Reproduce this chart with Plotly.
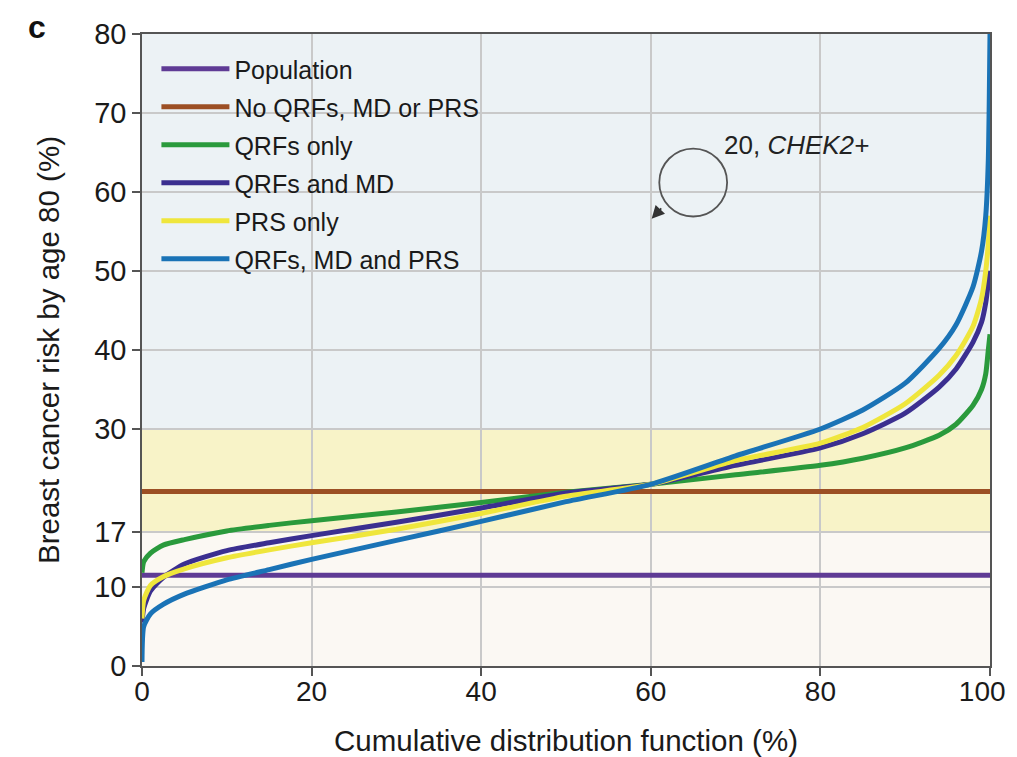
import plotly.graph_objects as go

# ---- data ----
cdf = [0, 0.2, 1, 2.5, 5, 10, 15, 20, 30, 40, 50, 60, 70, 80, 85, 90, 94, 96,
       98, 99, 99.5, 99.8, 100]
qrfs_only = [11.8, 13.2, 14.3, 15.3, 16.0, 17.1, 17.8, 18.4, 19.5, 20.7, 22.0, 23.0,
             24.2, 25.4, 26.3, 27.6, 29.2, 30.6, 33.0, 35.0, 37.0, 40.0, 42.0]
qrfs_md = [5.5, 7.3, 9.5, 11.2, 12.9, 14.6, 15.6, 16.5, 18.2, 20.0, 21.9, 23.0,
           25.4, 27.6, 29.4, 32.0, 35.3, 37.6, 41.0, 43.5, 46.0, 48.5, 50.0]
prs_only = [6.0, 8.3, 10.2, 11.3, 12.3, 13.7, 14.7, 15.6, 17.3, 19.3, 21.5, 23.0,
            26.0, 28.2, 30.2, 33.2, 36.8, 39.3, 43.0, 46.5, 50.0, 53.5, 57.0]
qrfs_md_prs = [0.5, 5.0, 6.6, 7.8, 9.1, 10.9, 12.2, 13.5, 15.9, 18.3, 20.8, 23.0,
               26.6, 30.0, 32.4, 35.8, 40.2, 43.2, 48.0, 52.5, 57.0, 64.0, 80.0]
flat_x = [0, 100]
population = [11.5, 11.5]
no_qrfs = [22.1, 22.1]

x_ticks = [0, 20, 40, 60, 80, 100]
x_tick_labels = ["0", "20", "40", "60", "80", "100&nbsp;&nbsp;"]
y_ticks = [0, 10, 17, 30, 40, 50, 60, 70, 80]
bands = [(0, 17, "#fbf8f3"), (17, 30, "#f8f3c8"), (30, 80, "#ecf2f5")]

FONT = "Liberation Sans, Arial, Helvetica, sans-serif"

series = [
    ("Population", flat_x, population, "#5f3b95", "linear"),
    ("No QRFs, MD or PRS", flat_x, no_qrfs, "#9c4f24", "linear"),
    ("QRFs only", cdf, qrfs_only, "#2a9a3c", "spline"),
    ("QRFs and MD", cdf, qrfs_md, "#3b2f90", "spline"),
    ("PRS only", cdf, prs_only, "#efe63c", "spline"),
    ("QRFs, MD and PRS", cdf, qrfs_md_prs, "#1a73b6", "spline"),
]

fig = go.Figure()
for i, (name, xs, ys, col, shp) in enumerate(series):
    line = dict(color=col, width=5, shape=shp)
    if shp == "spline":
        line["smoothing"] = 0.6
    fig.add_trace(go.Scatter(x=xs, y=ys, mode="lines", name=name,
                             legendgroup=f"g{i}", line=line))

shapes = []
for y0, y1, c in bands:
    shapes.append(dict(type="rect", xref="x", yref="y", x0=0, x1=100, y0=y0, y1=y1,
                       fillcolor=c, line=dict(width=0), layer="below"))
# circular arrow symbol
shapes.append(dict(type="circle", xref="x", yref="y", x0=61.0, x1=69.0, y0=56.9, y1=65.5,
                   line=dict(color="#555555", width=1.8), layer="above"))

axis_common = dict(ticks="outside", ticklen=8, tickcolor="#555555", tickwidth=1.5,
                   showgrid=True, gridcolor="#c9c9c9", gridwidth=1.5,
                   showline=True, linecolor="#555555", linewidth=1.5, mirror=True,
                   zeroline=False, automargin=False)

fig.update_layout(
    width=1009, height=749,
    margin=dict(l=134, r=27, t=26, b=91),
    paper_bgcolor="white", plot_bgcolor="white",
    font=dict(family=FONT, color="#1a1a1a", size=24),
    shapes=shapes,
    showlegend=True,
    legend=dict(x=0.017, y=0.981, xanchor="left", yanchor="top",
                bgcolor="rgba(0,0,0,0)", font=dict(size=25, family=FONT),
                tracegroupgap=2.5, traceorder="grouped", itemwidth=68),
    xaxis=dict(range=[0, 100], tickvals=x_ticks, ticktext=x_tick_labels,
               ticklabelstandoff=-8, tickfont=dict(size=28),
               ticklabeloverflow="allow",
               title=dict(text="Cumulative distribution function (%)",
                          font=dict(size=29.5), standoff=34),
               **axis_common),
    yaxis=dict(range=[0, 80], tickvals=y_ticks, tickfont=dict(size=29),
               title=dict(text="Breast cancer risk by age 80 (%)",
                          font=dict(size=29.5), standoff=26),
               **axis_common),
    annotations=[
        dict(x=68.4, y=65.9, xref="x", yref="y", text="20, <i>CHEK2+</i>",
             showarrow=False, xanchor="left", yanchor="middle",
             font=dict(size=26, color="#222222")),
        dict(x=60.1, y=56.6, xref="x", yref="y", text="", showarrow=True,
             ax=11, ay=-12, arrowhead=2, arrowsize=1.6, arrowwidth=1.6,
             arrowcolor="#333333"),
        dict(x=-0.137, y=1.011, xref="paper", yref="paper", text="<b>c</b>",
             showarrow=False, xanchor="left", yanchor="middle",
             font=dict(size=32, color="#111111")),
    ],
)

fig.write_html("out.html")
